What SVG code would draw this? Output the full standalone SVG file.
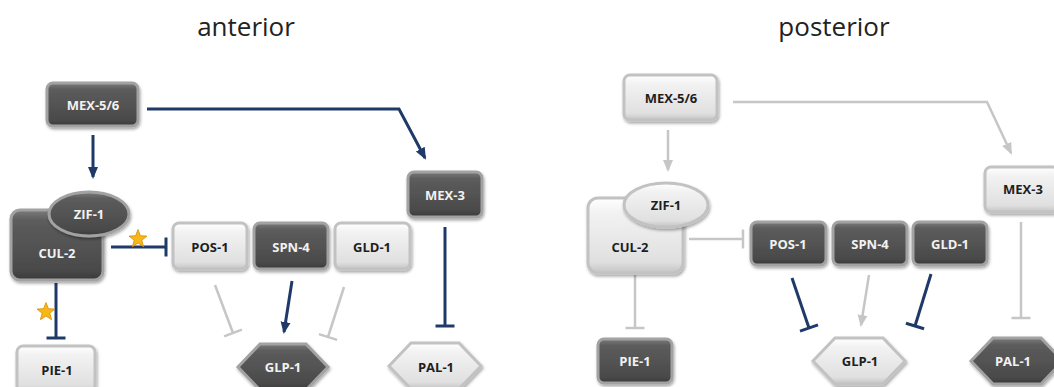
<svg xmlns="http://www.w3.org/2000/svg" xmlns:xlink="http://www.w3.org/1999/xlink" width="1054" height="387" viewBox="0 0 1054 387">
<style>
.title{font-family:"Open Sans","Noto Sans",sans-serif;font-size:26px;fill:#222;text-anchor:middle}
.lbl{font-family:"Open Sans","Noto Sans",sans-serif;font-size:13px;font-weight:bold;text-anchor:middle;dominant-baseline:central}
.dk{fill:url(#gDark);stroke:#a2a2a2;stroke-width:3;filter:url(#sh)}
.lt{fill:url(#gLight);stroke:#c2c2c2;stroke-width:3;filter:url(#sh)}
.dk-t{fill:#f2f2f2}
.lt-t{fill:#1e1e1e}
.blue{fill:none;stroke:#1f3a68;stroke-width:3}
.gray{fill:none;stroke:#c6c6c6;stroke-width:2.5}
.star{fill:#f7b718;stroke:#d98c00;stroke-width:0.8}
</style>
<defs>
<linearGradient id="gDark" x1="0" y1="0" x2="0" y2="1">
<stop offset="0" stop-color="#7c7c7c"/>
<stop offset="0.15" stop-color="#5c5c5c"/>
<stop offset="0.85" stop-color="#4a4a4a"/>
<stop offset="1" stop-color="#3a3a3a"/>
</linearGradient>
<linearGradient id="gLight" x1="0" y1="0" x2="0" y2="1">
<stop offset="0" stop-color="#ffffff"/>
<stop offset="0.2" stop-color="#f2f2f2"/>
<stop offset="0.85" stop-color="#e0e0e0"/>
<stop offset="1" stop-color="#c4c4c4"/>
</linearGradient>
<filter id="sh" x="-20%" y="-20%" width="140%" height="150%">
<feDropShadow dx="1" dy="2" stdDeviation="1.5" flood-color="#000" flood-opacity="0.35"/>
</filter>
<marker id="aB" viewBox="0 0 12 12" refX="10" refY="6" markerWidth="12" markerHeight="12" markerUnits="userSpaceOnUse" orient="auto">
<path d="M0,1 L12,6 L0,11 z" fill="#1f3a68"/>
</marker>
<marker id="aG" viewBox="0 0 12 12" refX="10" refY="6" markerWidth="12" markerHeight="12" markerUnits="userSpaceOnUse" orient="auto">
<path d="M0,1 L12,6 L0,11 z" fill="#c6c6c6"/>
</marker>
<marker id="tB" viewBox="-2 -10 4 20" refX="0" refY="0" markerWidth="4" markerHeight="20" markerUnits="userSpaceOnUse" orient="auto">
<path d="M0,-9.5 V9.5" stroke="#1f3a68" stroke-width="3"/>
</marker>
<marker id="tG" viewBox="-2 -10 4 20" refX="0" refY="0" markerWidth="4" markerHeight="20" markerUnits="userSpaceOnUse" orient="auto">
<path d="M0,-9.5 V9.5" stroke="#c6c6c6" stroke-width="2.5"/>
</marker>
<polygon id="starShape" points="0,-9.5 2.4,-3.3 9,-2.9 3.8,1.2 5.6,7.7 0,4 -5.6,7.7 -3.8,1.2 -9,-2.9 -2.4,-3.3"/>
</defs>
<rect width="1054" height="387" fill="#ffffff"/>

<text class="title" x="246" y="36">anterior</text>
<text class="title" x="834" y="36">posterior</text>

<g id="connectors">
<!-- anterior -->
<path class="blue" d="M147,109 H399 L425,158" marker-end="url(#aB)"/>
<path class="blue" d="M93,135 V177" marker-end="url(#aB)"/>
<path class="blue" d="M111,247 H166" marker-end="url(#tB)"/>
<path class="blue" d="M56,283 V338" marker-end="url(#tB)"/>
<path class="blue" d="M445,227 V326" marker-end="url(#tB)"/>
<path class="blue" d="M292,281 L284,332" marker-end="url(#aB)"/>
<path class="gray" d="M215,285 L233,333" marker-end="url(#tG)"/>
<path class="gray" d="M344,287 L328,337" marker-end="url(#tG)"/>
<!-- posterior -->
<path class="gray" d="M733,102 H987 L1011,153" marker-end="url(#aG)"/>
<path class="gray" d="M668,130 V170" marker-end="url(#aG)"/>
<path class="gray" d="M689,239 H743" marker-end="url(#tG)"/>
<path class="gray" d="M635,275 V328" marker-end="url(#tG)"/>
<path class="gray" d="M1021,222 V318" marker-end="url(#tG)"/>
<path class="gray" d="M869,275 L861,325" marker-end="url(#aG)"/>
<path class="blue" d="M792,278 L809,328" marker-end="url(#tB)"/>
<path class="blue" d="M931,274 L915,326" marker-end="url(#tB)"/>
</g>

<g id="stars">
<use xlink:href="#starShape" class="star" x="138" y="239"/>
<use xlink:href="#starShape" class="star" x="46" y="312"/>
</g>

<!-- anterior nodes -->
<g id="a-mex56"><rect class="dk" x="47" y="83" width="91" height="43" rx="6"/><text class="lbl dk-t" x="93" y="105">MEX-5/6</text></g>
<g id="a-cul2"><rect class="dk" x="11" y="210" width="92" height="70" rx="9"/><text class="lbl dk-t" x="57" y="253">CUL-2</text></g>
<g id="a-zif1"><ellipse class="dk" cx="89" cy="214" rx="40" ry="22"/><text class="lbl dk-t" x="89" y="214">ZIF-1</text></g>
<g id="a-pos1"><rect class="lt" x="173" y="223" width="74" height="46" rx="6"/><text class="lbl lt-t" x="210" y="247">POS-1</text></g>
<g id="a-spn4"><rect class="dk" x="254" y="223" width="74" height="46" rx="6"/><text class="lbl dk-t" x="291" y="247">SPN-4</text></g>
<g id="a-gld1"><rect class="lt" x="335" y="223" width="75" height="46" rx="6"/><text class="lbl lt-t" x="372" y="247">GLD-1</text></g>
<g id="a-mex3"><rect class="dk" x="408" y="172" width="74" height="45" rx="6"/><text class="lbl dk-t" x="445" y="195">MEX-3</text></g>
<g id="a-pie1"><rect class="lt" x="17" y="346" width="78" height="46" rx="6"/><text class="lbl lt-t" x="57" y="370">PIE-1</text></g>
<g id="a-glp1"><polygon class="dk" points="238,367 260,344 306,344 328,367 306,390 260,390"/><text class="lbl dk-t" x="283" y="367">GLP-1</text></g>
<g id="a-pal1"><polygon class="lt" points="389,366 411,343 459,343 481,366 459,389 411,389"/><text class="lbl lt-t" x="436" y="367">PAL-1</text></g>

<!-- posterior nodes -->
<g id="p-mex56"><rect class="lt" x="624" y="75" width="93" height="45" rx="6"/><text class="lbl lt-t" x="671" y="98">MEX-5/6</text></g>
<g id="p-cul2"><rect class="lt" x="588" y="198" width="95" height="75" rx="10"/><text class="lbl lt-t" x="630" y="247">CUL-2</text></g>
<g id="p-zif1"><ellipse class="lt" cx="666" cy="205" rx="42" ry="22"/><text class="lbl lt-t" x="666" y="205">ZIF-1</text></g>
<g id="p-pos1"><rect class="dk" x="751" y="222" width="75" height="43" rx="6"/><text class="lbl dk-t" x="788" y="244">POS-1</text></g>
<g id="p-spn4"><rect class="dk" x="833" y="222" width="74" height="43" rx="6"/><text class="lbl dk-t" x="870" y="244">SPN-4</text></g>
<g id="p-gld1"><rect class="dk" x="913" y="222" width="74" height="43" rx="6"/><text class="lbl dk-t" x="950" y="244">GLD-1</text></g>
<g id="p-mex3"><rect class="lt" x="985" y="167" width="74" height="45" rx="6"/><text class="lbl lt-t" x="1023" y="189">MEX-3</text></g>
<g id="p-pie1"><rect class="dk" x="598" y="339" width="74" height="44" rx="6"/><text class="lbl dk-t" x="635" y="361">PIE-1</text></g>
<g id="p-glp1"><polygon class="lt" points="813,361 835,338 883,338 905,361 883,384 835,384"/><text class="lbl lt-t" x="860" y="361">GLP-1</text></g>
<g id="p-pal1"><polygon class="dk" points="971,361 993,338 1041,338 1063,361 1041,384 993,384"/><text class="lbl dk-t" x="1013" y="361">PAL-1</text></g>
</svg>
